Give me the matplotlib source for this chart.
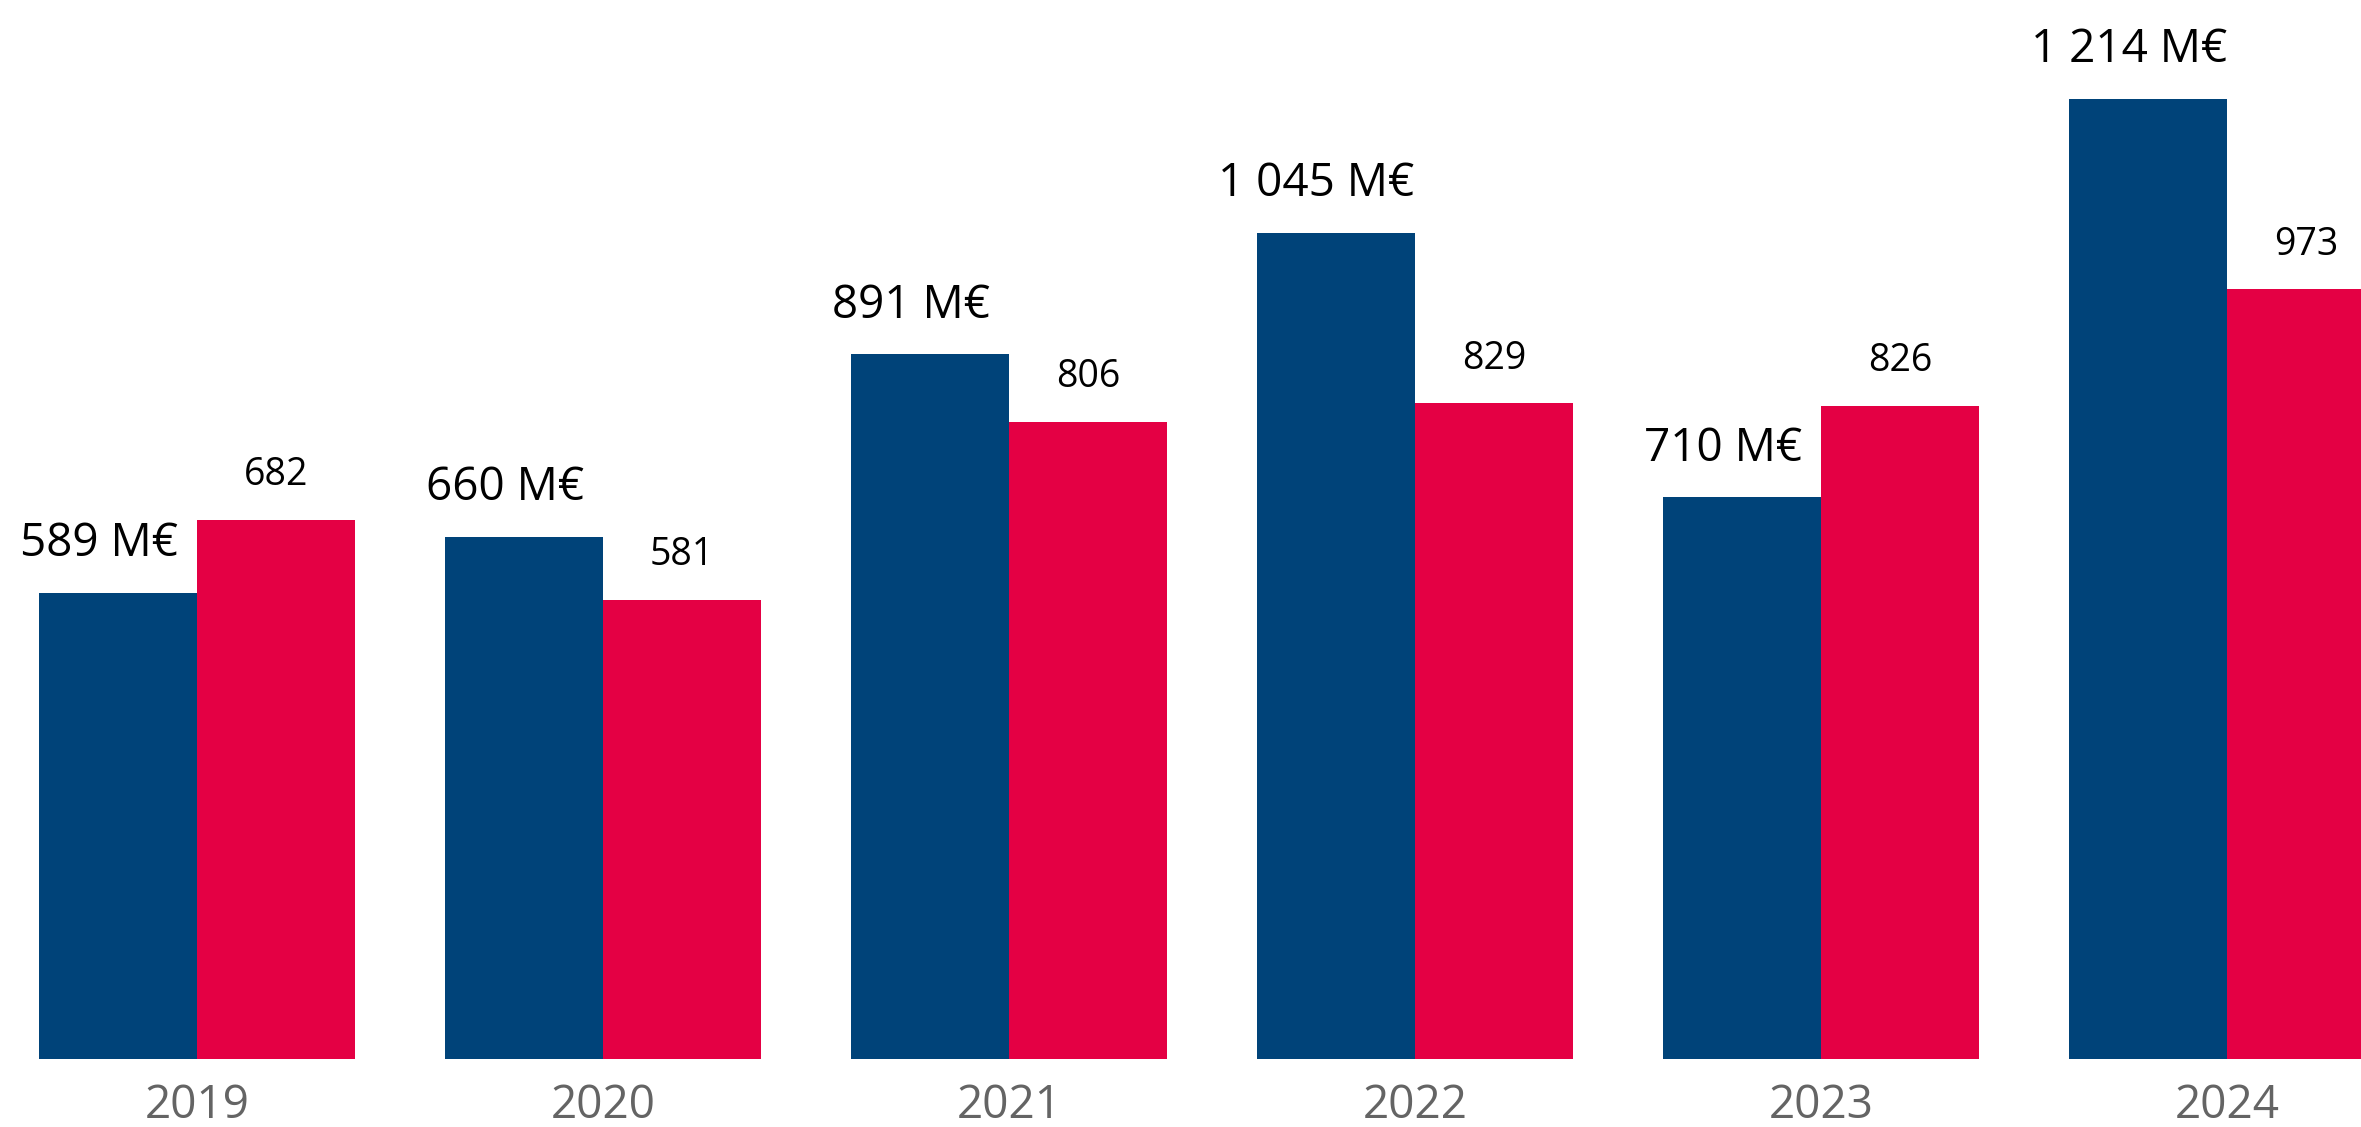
import numpy as np
import matplotlib.pyplot as plt

years = ['2019', '2020', '2021', '2022', '2023', '2024']
ca = [589, 660, 891, 1045, 710, 1214]      # barres bleues (M€)
autre = [682, 581, 806, 829, 826, 973]     # barres rouges
ca_labels = ['589 M€', '660 M€', '891 M€', '1 045 M€', '710 M€', '1 214 M€']

bleu = '#004379'
rouge = '#E40044'
largeur = 0.389

fig = plt.figure(figsize=(23.61, 11.27), dpi=100)
ax = fig.add_axes([0, 0.0603, 1, 0.9397])

x = np.arange(len(years))
b1 = ax.bar(x - largeur, ca, largeur, align='edge', color=bleu)
b2 = ax.bar(x, autre, largeur, align='edge', color=rouge)

# etiquettes au-dessus des barres
for rect, lab in zip(b1, ca_labels):
    ax.annotate(lab, (rect.get_x() + rect.get_width() / 2, rect.get_height()),
                xytext=(-14, 26.5), textcoords='offset points',
                ha='center', va='baseline', fontsize=33,
                family=['Open Sans', 'DejaVu Sans'], color='black')
for rect, v in zip(b2, autre):
    ax.annotate(str(v), (rect.get_x() + rect.get_width() / 2, rect.get_height()),
                xytext=(0, 25), textcoords='offset points',
                ha='center', va='baseline', fontsize=27,
                family=['Open Sans', 'DejaVu Sans'], color='black')

ax.set_xlim(-0.485, 5.330)
ax.set_ylim(0, 1339)
ax.set_xticks(x)
ax.set_xticklabels(years, fontsize=33, color='#646464',
                   family=['Liberation Sans Narrow', 'Open Sans'])
ax.tick_params(axis='x', length=0, pad=17)
ax.set_yticks([])
for s in ax.spines.values():
    s.set_visible(False)

fig.savefig('out.png', dpi=100)
